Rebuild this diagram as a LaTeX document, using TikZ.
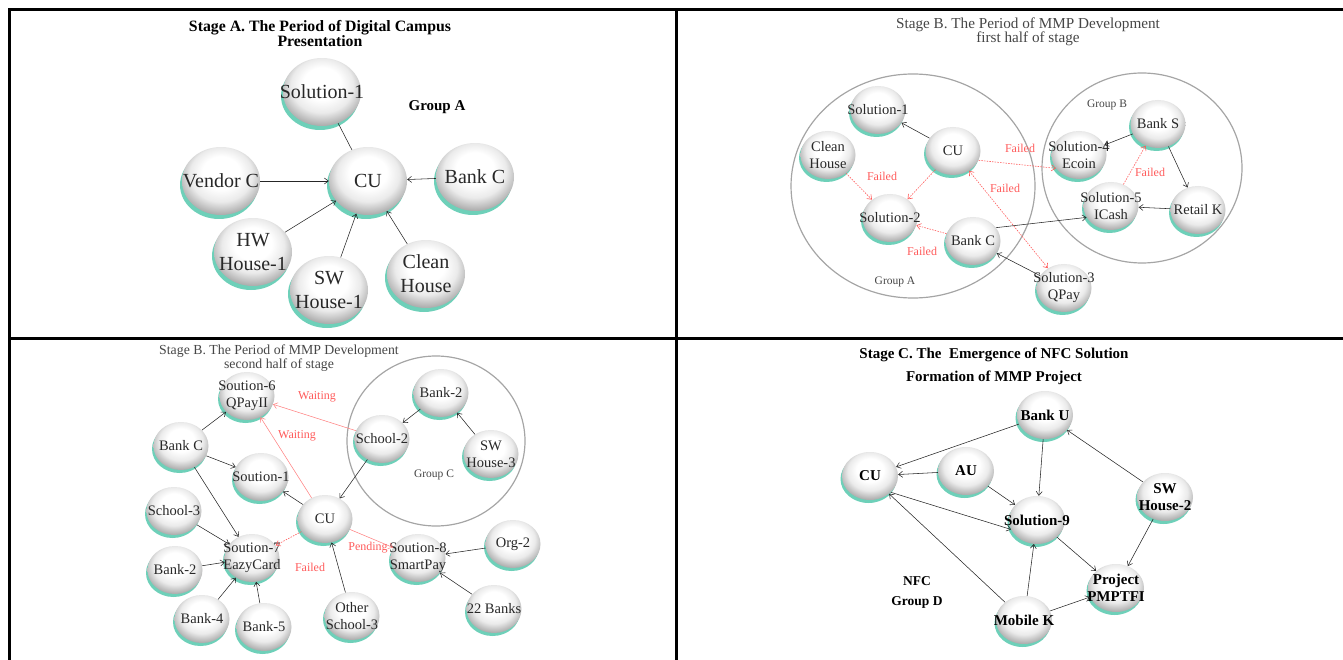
\documentclass[tikz,border=0pt]{standalone}
\usepackage{fontspec}
\setmainfont{Liberation Serif}
\usetikzlibrary{shapes.geometric,arrows.meta,shadows}
\definecolor{shad}{RGB}{110,208,185}
\definecolor{txt}{RGB}{40,40,40}
\definecolor{grp}{RGB}{165,165,165}
\definecolor{fail}{RGB}{255,90,90}
\definecolor{titgray}{RGB}{70,70,70}
\pgfdeclareradialshading{orb}{\pgfpoint{0bp}{8bp}}{color(0bp)=(white); color(12bp)=(white); color(20bp)=(black!8); color(30bp)=(black!38); color(50bp)=(black!40)}
\tikzset{
  >={Straight Barb[length=4pt,width=6pt]},
  frame/.style={line width=3pt, black},
  orbtxt/.style={inner sep=0pt, align=center, text=txt},
  bigorb/.style={ellipse, inner sep=0pt, minimum width=78pt, minimum height=68pt, shading=orb,
    drop shadow={shadow xshift=-2pt, shadow yshift=-4pt, fill=shad, opacity=1},
    label={[orbtxt, font=\fontsize{20}{24}\selectfont]center:#1}},
  orb/.style={ellipse, inner sep=0pt, minimum width=55pt, minimum height=48pt, shading=orb,
    drop shadow={shadow xshift=-1.5pt, shadow yshift=-3pt, fill=shad, opacity=1},
    label={[orbtxt, font=\fontsize{14.5}{17}\selectfont]center:#1}},
  orbc/.style={ellipse, inner sep=0pt, minimum width=56pt, minimum height=48pt, shading=orb,
    drop shadow={shadow xshift=-1.5pt, shadow yshift=-3pt, fill=shad, opacity=1},
    label={[orbtxt, text=black, font=\bfseries\fontsize{15}{17}\selectfont]center:#1}},
  ar/.style={draw=black!85, line width=0.55pt, ->},
  plainln/.style={draw=black!85, line width=0.55pt},
  fl/.style={draw=fail, line width=0.6pt, dash pattern=on 1.5pt off 1.2pt, ->},
  wt/.style={draw=fail!75, line width=0.55pt, ->},
  lbl/.style={text=fail, inner sep=0pt, font=\fontsize{12}{14}\selectfont},
  grpell/.style={draw=grp, line width=1.2pt},
  grptxt/.style={text=titgray, inner sep=0pt, font=\fontsize{11.5}{13}\selectfont},
}
\begin{document}
\begin{tikzpicture}[x=1pt,y=-1pt]
\useasboundingbox (0,0) rectangle (1343,660);
% frame
\draw[frame] (9,662) -- (9,10) -- (1345,10);
\draw[frame] (676,10) -- (676,662);
\draw[frame] (9,338) -- (1345,338);

% ---------------- Panel A ----------------
\node[align=center, inner sep=0pt, font=\bfseries\fontsize{15.8}{15}\selectfont] (tA) at (320,33.5) {Stage A. The Period of Digital Campus\\Presentation};
\node[inner sep=0pt, font=\bfseries\fontsize{15}{17}\selectfont] (gA) at (437,107) {Group A};
\node[bigorb={Solution-1}] (asol1) at (322,92) {};
\node[bigorb={CU}] (acu) at (368,181) {};
\node[bigorb={Vendor C}] (aven) at (221,181) {};
\node[bigorb={Bank C}] (abank) at (475,177) {};
\node[bigorb={HW\\House-1}] (ahw) at (253,252) {};
\node[bigorb={SW\\House-1}] (asw) at (329,290) {};
\node[bigorb={Clean\\House}] (aclean) at (426,274) {};
\draw[plainln] (asol1) -- (acu);
\draw[ar] (aven) -- (acu);
\draw[ar] (abank) -- (acu);
\draw[ar] (ahw) -- (acu);
\draw[ar] (asw) -- (acu);
\draw[ar] (aclean) -- (acu);

% ---------------- Panel B1 ----------------
\node[align=center, inner sep=0pt, text=titgray, font=\fontsize{15.2}{14}\selectfont] (tB1) at (1028,32) {Stage B. The Period of MMP Development\\first half of stage};
\draw[grpell] (913,186) ellipse [x radius=122pt, y radius=112pt];
\draw[grpell] (1142,168) ellipse [x radius=100pt, y radius=95pt];
\node[grptxt] (gB1b) at (1107,105) {Group B};
\node[grptxt] (gB1a) at (895,282) {Group A};
\node[orb={Solution-1}] (bsol1) at (878,110) {};
\node[orb={CU}] (bcu) at (953,151) {};
\node[orb={Clean\\House}] (bclean) at (828,155) {};
\node[orb={Solution-2}] (bsol2) at (890,218) {};
\node[orb={Bank C}] (bbankc) at (973,241) {};
\node[orb={Solution-3\\QPay}] (bsol3) at (1064,288) {};
\node[orb={Solution-4\\Ecoin}] (bsol4) at (1079,155) {};
\node[orb={Bank S}] (bbanks) at (1158,124) {};
\node[orb={Solution-5\\ICash}] (bsol5) at (1111,206) {};
\node[orb={Retail K}] (bretail) at (1198,210) {};
\draw[ar] (bcu) -- (bsol1);
\draw[ar] (bbankc.30) -- (bsol5.205);
\draw[ar] (bsol3) -- (bbankc);
\draw[ar] (bbanks) -- (bsol4);
\draw[ar] (bbanks) -- (bretail);
\draw[ar] (bretail) -- (bsol5);
\draw[fl] (bcu) -- (bsol2);
\draw[fl] (bclean) -- (bsol2);
\draw[fl] (bcu.-20) -- (bsol4.210);
\draw[fl, <->] (bcu) -- (bsol3);
\draw[fl] (bbankc) -- (bsol2);
\draw[fl] (bsol5) -- (bbanks);
\node[lbl] (lb1) at (882,176) {Failed};
\node[lbl] (lb2) at (1020,148) {Failed};
\node[lbl] (lb3) at (1005,188) {Failed};
\node[lbl] (lb4) at (922,251) {Failed};
\node[lbl] (lb5) at (1150,172) {Failed};

% ---------------- Panel B2 ----------------
\node[align=center, inner sep=0pt, text=titgray, font=\fontsize{13.8}{12}\selectfont] (tB2) at (279,358) {Stage B. The Period of MMP Development\\second half of stage};
\draw[grpell] (436,441) ellipse [x radius=89pt, y radius=85pt];
\node[grptxt] (gC) at (434,475) {Group C};
\node[orb={Soution-6\\QPayII}] (cs6) at (247,396) {};
\node[orb={Bank C}] (cbankc) at (181,446) {};
\node[orb={Soution-1}] (cs1) at (261,477) {};
\node[orb={School-3}] (cschool3) at (174,511) {};
\node[orb={Soution-7\\EazyCard}] (cs7) at (252,558) {};
\node[orb={Bank-2}] (cbank2) at (175,570) {};
\node[orb={Bank-4}] (cbank4) at (202,619) {};
\node[orb={Bank-5}] (cbank5) at (264,627) {};
\node[orb={CU}] (ccu) at (325,519) {};
\node[orb={Other\\School-3}] (cother) at (352,616) {};
\node[orb={Soution-8\\SmartPay}] (cs8) at (418,558) {};
\node[orb={Org-2}] (corg2) at (513,544) {};
\node[orb={22 Banks}] (c22) at (494,609) {};
\node[orb={School-2}] (cschool2) at (382,439) {};
\node[orb={Bank-2}] (cbank2t) at (441,393) {};
\node[orb={SW\\House-3}] (csw3) at (491,454) {};
\draw[ar] (cbankc) -- (cs6);
\draw[ar] (cbankc) -- (cs1);
\draw[ar] (cbankc) -- (cs7);
\draw[ar] (cschool3) -- (cs7);
\draw[ar] (cbank2) -- (cs7);
\draw[ar] (cbank4) -- (cs7);
\draw[ar] (cbank5) -- (cs7);
\draw[ar] (ccu) -- (cs1);
\draw[ar] (cschool2) -- (ccu);
\draw[ar] (cbank2t) -- (cschool2);
\draw[ar] (csw3) -- (cbank2t);
\draw[ar] (cother) -- (ccu);
\draw[ar] (corg2) -- (cs8);
\draw[ar] (c22) -- (cs8);
\draw[wt] (ccu) -- (cs6);
\draw[wt] (cschool2) -- (cs6);
\draw[wt] (ccu) -- (cs8);
\draw[fl] (ccu) -- (cs7);
\node[lbl] (lc1) at (297,436) {Waiting};
\node[lbl] (lc2) at (317,397) {Waiting};
\node[lbl] (lc3) at (368,548) {Pending};
\node[lbl] (lc4) at (310,567) {Failed};

% ---------------- Panel C ----------------
\node[align=center, inner sep=0pt, font=\bfseries\fontsize{15}{23}\selectfont] (tC) at (994,366.5) {Stage C. The~ Emergence of NFC Solution\\Formation of MMP Project};
\node[align=center, inner sep=0pt, font=\bfseries\fontsize{13.5}{20}\selectfont] (gD) at (917,592) {NFC\\Group D};
\node[orbc={Bank U}] (dbanku) at (1045,415) {};
\node[orbc={CU}] (dcu) at (870,476) {};
\node[orbc={AU}] (dau) at (966,471) {};
\node[orbc={Solution-9}] (dsol9) at (1037,520) {};
\node[orbc={SW\\House-2}] (dsw2) at (1165,497) {};
\node[orbc={Project\\PMPTFI}] (dproj) at (1116,588) {};
\node[orbc={Mobile K}] (dmob) at (1024,620) {};
\draw[ar] (dbanku) -- (dcu);
\draw[ar] (dau) -- (dcu);
\draw[ar] (dau) -- (dsol9);
\draw[ar] (dbanku) -- (dsol9);
\draw[ar] (dcu.-38) -- (dsol9.200);
\draw[ar] (dsw2) -- (dbanku);
\draw[ar] (dsw2) -- (dproj);
\draw[ar] (dsol9) -- (dproj);
\draw[ar] (dmob) -- (dsol9);
\draw[ar] (dmob) -- (dcu);
\draw[ar] (dmob) -- (dproj);
\end{tikzpicture}
\end{document}
